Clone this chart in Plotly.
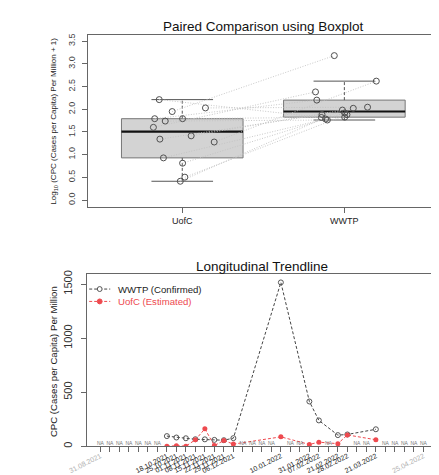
import math
import plotly.graph_objects as go

# ---------------- data ----------------
groups = ["UofC", "WWTP"]

slot_dates = ["31.08.2021", "07.09.2021", "14.09.2021", "21.09.2021", "28.09.2021",
              "05.10.2021", "11.10.2021", "18.10.2021", "25.10.2021", "01.11.2021",
              "08.11.2021", "15.11.2021", "22.11.2021", "29.11.2021", "06.12.2021",
              "13.12.2021", "20.12.2021", "27.12.2021", "03.01.2022", "10.01.2022",
              "17.01.2022", "24.01.2022", "31.01.2022", "07.02.2022", "14.02.2022",
              "21.02.2022", "28.02.2022", "07.03.2022", "14.03.2022", "21.03.2022",
              "28.03.2022", "04.04.2022", "11.04.2022", "18.04.2022", "25.04.2022"]

sample_dates = ["18.10.2021", "25.10.2021", "01.11.2021", "08.11.2021", "15.11.2021",
                "22.11.2021", "29.11.2021", "06.12.2021", "10.01.2022", "31.01.2022",
                "07.02.2022", "21.02.2022", "28.02.2022", "21.03.2022"]
wwtp_cpc = [95, 82, 75, 66, 65, 60, 57, 76, 1515, 415, 240, 104, 110, 158]
uofc_cpc = [1.6, 5.5, 2.2, 61, 162, 7.5, 54, 21, 88, 18, 39, 25, 106, 61]
jitter = [-0.012, 0.002, 0.016, 0.002, -0.142, -0.116, -0.105, -0.138,
          -0.062, 0.197, -0.178, 0.055, 0.143, -0.170]

y_ticks_top = [0.0, 0.5, 1.0, 1.5, 2.0, 2.5, 3.0, 3.5]
y_ticks_bot = [0, 500, 1000, 1500]

legend_names = ["WWTP (Confirmed)", "UofC (Estimated)"]

# ---------------- styles ----------------
FONT = "Liberation Sans, Arial, sans-serif"
RED = "#ee4a4f"
DARK = "#444444"
FRAME = "#666666"
W, H = 439, 475


def px_dom(a, b, total, flip=False):
    if flip:
        return [1 - b / total, 1 - a / total]
    return [a / total, b / total]


fig = go.Figure()

# ---------------- top: paired boxplot ----------------
log_u = [math.log10(v + 1) for v in uofc_cpc]
log_w = [math.log10(v + 1) for v in wwtp_cpc]


def fivenum(vals):
    s = sorted(vals)
    n = len(s)
    n4 = math.floor((n + 3) / 2) / 2
    pos = [1, n4, (n + 1) / 2, n + 1 - n4, n]
    out = []
    for p in pos:
        lo = s[math.floor(p) - 1]
        hi = s[math.ceil(p) - 1]
        out.append((lo + hi) / 2)
    q1, med, q3 = out[1], out[2], out[3]
    iqr = q3 - q1
    wl = min(v for v in s if v >= q1 - 1.5 * iqr)
    wh = max(v for v in s if v <= q3 + 1.5 * iqr)
    return wl, q1, med, q3, wh


half_box = 0.375
half_cap = 0.19
for gi, vals in enumerate([log_u, log_w], start=1):
    wl, q1, med, q3, wh = fivenum(vals)
    fig.add_trace(go.Scatter(
        x=[gi - half_box, gi + half_box, gi + half_box, gi - half_box, gi - half_box],
        y=[q1, q1, q3, q3, q1], mode="lines", fill="toself",
        fillcolor="#d3d3d3", line=dict(color="#777777", width=1),
        hoverinfo="skip", showlegend=False, xaxis="x", yaxis="y"))
    fig.add_trace(go.Scatter(
        x=[gi - half_box, gi + half_box], y=[med, med], mode="lines",
        line=dict(color="#111111", width=2.2), hoverinfo="skip",
        showlegend=False, xaxis="x", yaxis="y"))
    fig.add_trace(go.Scatter(
        x=[gi, gi, None, gi, gi], y=[q3, wh, None, q1, wl], mode="lines",
        line=dict(color="#555555", width=1, dash="3px,2px"), hoverinfo="skip",
        showlegend=False, xaxis="x", yaxis="y"))
    fig.add_trace(go.Scatter(
        x=[gi - half_cap, gi + half_cap, None, gi - half_cap, gi + half_cap],
        y=[wh, wh, None, wl, wl], mode="lines",
        line=dict(color="#555555", width=1), hoverinfo="skip",
        showlegend=False, xaxis="x", yaxis="y"))

# pairing lines
px_, py_ = [], []
for j, lu, lw in zip(jitter, log_u, log_w):
    px_ += [1 + j, 2 + j, None]
    py_ += [lu, lw, None]
fig.add_trace(go.Scatter(x=px_, y=py_, mode="lines",
                         line=dict(color="#c2c2c2", width=0.9, dash="1px,1.6px"),
                         hoverinfo="skip", showlegend=False, xaxis="x", yaxis="y"))

fig.add_trace(go.Scatter(
    x=[1 + j for j in jitter] + [2 + j for j in jitter], y=log_u + log_w,
    mode="markers",
    marker=dict(symbol="circle-open", size=6, color="#505050", line=dict(width=1)),
    hoverinfo="skip", showlegend=False, xaxis="x", yaxis="y"))

# ---------------- bottom: longitudinal ----------------
idx = [slot_dates.index(d) for d in sample_dates]

fig.add_trace(go.Scatter(
    x=idx, y=wwtp_cpc, mode="lines+markers", name=legend_names[0],
    line=dict(color=DARK, width=1, dash="3px,2px"),
    marker=dict(symbol="circle-open", size=5, color="#555555", line=dict(width=1)),
    showlegend=False, xaxis="x2", yaxis="y2"))
fig.add_trace(go.Scatter(
    x=idx, y=uofc_cpc, mode="lines+markers", name=legend_names[1],
    line=dict(color=RED, width=1, dash="3px,2px"),
    marker=dict(symbol="circle", size=5, color=RED),
    showlegend=False, xaxis="x2", yaxis="y2"))

na_idx = [i for i, d in enumerate(slot_dates) if d not in sample_dates]
fig.add_trace(go.Scatter(
    x=na_idx, y=[25] * len(na_idx), mode="text", text=["NA"] * len(na_idx),
    textfont=dict(size=5, color="#777777", family=FONT), hoverinfo="skip",
    showlegend=False, xaxis="x2", yaxis="y2"))

tick_text = []
last = len(slot_dates) - 1
for i, d in enumerate(slot_dates):
    if d in sample_dates:
        tick_text.append("<span style='color:#222222'>%s</span>" % d)
    elif i == 0 or i == last:
        tick_text.append("<span style='color:#b0b0b0'>%s</span>" % d)
    else:
        tick_text.append(" ")

# ---------------- manual legend (paper shapes + annotations) ----------------
leg_rows = [280, 292.5]
leg_styles = [
    dict(line=DARK, fill="white", edge="#555555", text="#222222"),
    dict(line=RED, fill=RED, edge=RED, text=RED),
]
shapes = []
for row, st in zip(leg_rows, leg_styles):
    yp = 1 - row / H
    shapes.append(dict(type="line", xref="paper", yref="paper",
                       x0=65 / W, x1=87 / W, y0=yp, y1=yp,
                       line=dict(color=st["line"], width=1, dash="3px,2px")))
    shapes.append(dict(type="circle", xref="paper", yref="paper",
                       x0=73.5 / W, x1=78.5 / W, y0=yp - 2.5 / H, y1=yp + 2.5 / H,
                       fillcolor=st["fill"], line=dict(color=st["edge"], width=1)))

axis_common = dict(showline=True, mirror=True, linecolor=FRAME, linewidth=1,
                   showgrid=False, zeroline=False, ticks="outside",
                   tickcolor=FRAME, ticklen=5)

annotations = [
    dict(text="Paired Comparison using Boxplot", x=247 / W, y=1 - 15 / H,
         xref="paper", yref="paper", showarrow=False,
         font=dict(size=13.5, color="#111111"), xanchor="center", yanchor="middle"),
    dict(text="Longitudinal Trendline", x=246 / W, y=1 - 257 / H,
         xref="paper", yref="paper", showarrow=False,
         font=dict(size=13.5, color="#111111"), xanchor="center", yanchor="middle"),
    dict(text="Log<sub>10</sub> (CPC (Cases per Capita) Per Million + 1)",
         x=28 / W, y=1 - 110 / H, xref="paper", yref="paper", showarrow=False,
         textangle=-90, font=dict(size=8, color="#222222"),
         xanchor="center", yanchor="middle"),
    dict(text="CPC (Cases per Capita) Per Million",
         x=27 / W, y=1 - 353 / H, xref="paper", yref="paper", showarrow=False,
         textangle=-90, font=dict(size=9.6, color="#222222"),
         xanchor="center", yanchor="middle"),
]
for row, name, st in zip(leg_rows, legend_names, leg_styles):
    annotations.append(dict(text=name, x=93 / W, y=1 - row / H, xref="paper",
                            yref="paper", showarrow=False, xanchor="left",
                            yanchor="middle", font=dict(size=9.6, color=st["text"])))

fig.update_layout(
    width=W, height=H,
    margin=dict(l=0, r=0, t=0, b=0),
    paper_bgcolor="white", plot_bgcolor="white",
    font=dict(family=FONT, color="#222222"),
    showlegend=False,
    xaxis=dict(domain=px_dom(64, 430, W), range=[0.42, 2.58],
               tickvals=[1, 2], ticktext=groups, tickfont=dict(size=9),
               anchor="y", **axis_common),
    yaxis=dict(domain=px_dom(23, 197, H, flip=True), range=[-0.15, 3.64],
               tickvals=y_ticks_top, ticktext=["%.1f" % v for v in y_ticks_top],
               tickangle=-90, tickfont=dict(size=9, color="#444444"),
               ticklabelstandoff=4, anchor="x", **axis_common),
    xaxis2=dict(domain=px_dom(63, 428, W), range=[-1.38, 35.38],
                tickvals=list(range(len(slot_dates))), ticktext=tick_text,
                tickangle=-27, tickfont=dict(size=7), ticklabelstandoff=-3,
                anchor="y2", **axis_common),
    yaxis2=dict(domain=px_dom(265, 439, H, flip=True), range=[0, 1591],
                tickvals=y_ticks_bot, ticktext=[str(v) for v in y_ticks_bot],
                tickangle=-90, tickfont=dict(size=11, color="#333333"),
                ticklabelstandoff=5, anchor="x2", **axis_common),
    shapes=shapes,
    annotations=annotations,
)

fig.write_html("out.html")
